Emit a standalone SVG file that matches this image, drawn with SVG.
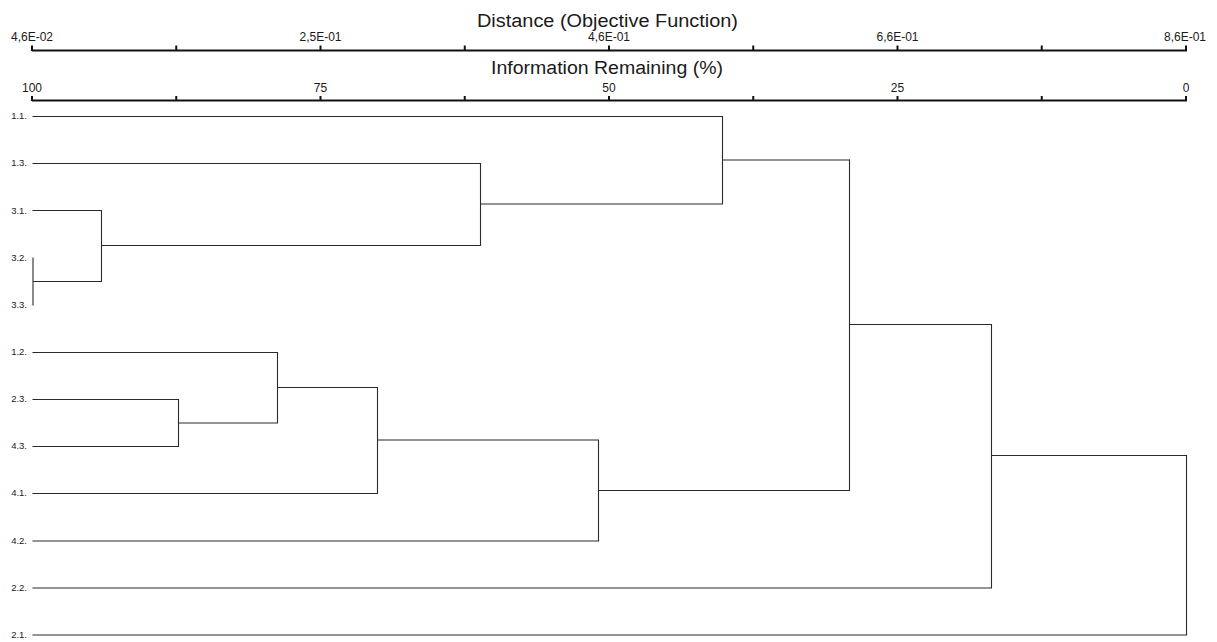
<svg xmlns="http://www.w3.org/2000/svg" width="1217" height="642" viewBox="0 0 1217 642">
<style>
text{font-family:"Liberation Sans",Arial,sans-serif;fill:#1a1a1a}
.title{font-size:18px;text-anchor:middle}
.tick{font-size:12px;text-anchor:middle}
.leaf{font-size:9.5px;text-anchor:end}
.axis{stroke:#111;stroke-width:2;fill:none}
.link{stroke:#2a2a2a;stroke-width:1.1;fill:none;stroke-linecap:square}
</style>
<rect width="1217" height="642" fill="#fff"/>
<g id="axis-distance">
<text class="title" x="607.5" y="27" textLength="261" lengthAdjust="spacingAndGlyphs">Distance (Objective Function)</text>
<path class="axis" d="M32 50.5H1187M32 45.5V51M176.25 45.5V51M320.5 45.5V51M464.75 45.5V51M609 45.5V51M753.25 45.5V51M897.5 45.5V51M1041.75 45.5V51M1186 45.5V51"/>
<text class="tick" x="32" y="41">4,6E-02</text>
<text class="tick" x="320.5" y="41">2,5E-01</text>
<text class="tick" x="609" y="41">4,6E-01</text>
<text class="tick" x="897.5" y="41">6,6E-01</text>
<text class="tick" x="1185" y="41">8,6E-01</text>
</g>
<g id="axis-info">
<text class="title" x="607" y="74" textLength="232" lengthAdjust="spacingAndGlyphs">Information Remaining (%)</text>
<path class="axis" d="M32 100.5H1187M32 96V101M176.25 96V101M320.5 96V101M464.75 96V101M609 96V101M753.25 96V101M897.5 96V101M1041.75 96V101M1186 96V101"/>
<text class="tick" x="32" y="92">100</text>
<text class="tick" x="320.5" y="92">75</text>
<text class="tick" x="609" y="92">50</text>
<text class="tick" x="897.5" y="92">25</text>
<text class="tick" x="1186" y="92">0</text>
</g>
<g id="leaf-labels">
<text class="leaf" x="27" y="119">1.1.</text>
<text class="leaf" x="27" y="166">1.3.</text>
<text class="leaf" x="27" y="213.5">3.1.</text>
<text class="leaf" x="27" y="260.5">3.2.</text>
<text class="leaf" x="27" y="307.5">3.3.</text>
<text class="leaf" x="27" y="355">1.2.</text>
<text class="leaf" x="27" y="402">2.3.</text>
<text class="leaf" x="27" y="449">4.3.</text>
<text class="leaf" x="27" y="496">4.1.</text>
<text class="leaf" x="27" y="544">4.2.</text>
<text class="leaf" x="27" y="591">2.2.</text>
<text class="leaf" x="27" y="638">2.1.</text>
</g>
<g id="connectors">
<path class="link" d="M33 116.5H722.5M33 163.5H480.5M33 210.5H101.5M33 258V305M33 281.5H101.5M101.5 210.5V281.5M101.5 245.5H480.5M480.5 163.5V245.5M480.5 204H722.5M722.5 116.5V204M722.5 160H849.5"/>
<path class="link" d="M33 352.5H277.5M33 399.5H178.5M33 446.5H178.5M178.5 399.5V446.5M178.5 423H277.5M277.5 352.5V423M277.5 387.5H377.5M33 493.5H377.5M377.5 387.5V493.5M377.5 440H598.5M33 541H598.5M598.5 440V541M598.5 490.5H849.5M849.5 160V490.5M849.5 324.5H991.5M33 588H991.5M991.5 324.5V588M991.5 455.5H1186.5M33 635H1186.5M1186.5 455.5V635"/>
</g>
</svg>
